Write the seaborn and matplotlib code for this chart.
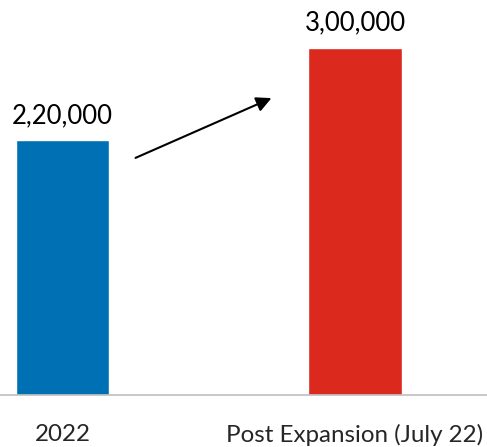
import matplotlib
matplotlib.use("Agg")
import matplotlib.pyplot as plt
import seaborn as sns
import pandas as pd

categories = ["2022", "Post Expansion (July 22)"]
values = [220000, 300000]
value_labels = ["2,20,000", "3,00,000"]
colors = ["#0070b4", "#dc291e"]

sns.set_style("white")
plt.rcParams['font.family'] = ['Lato', 'DejaVu Sans']

fig = plt.figure(figsize=(4.87, 4.47), dpi=100)
ax = fig.add_axes([0, (447 - 394.5) / 447, 1, 394.5 / 447])

df = pd.DataFrame({"cat": categories, "val": values})
sns.barplot(data=df, x="cat", y="val", hue="cat", palette=colors,
            width=0.318, legend=False, ax=ax, saturation=1)

ax.set_xlim(-62.5 / 292.5, 1 + (487 - 355) / 292.5)
ax.set_ylim(0, 300000 * 394.5 / (394.5 - 48))

for cont, lab in zip(ax.containers, value_labels):
    ax.bar_label(cont, labels=[lab], padding=9, fontsize=18.5, color='black')

# arrow between the bars
ax.annotate("", xy=(274 / 487, 1 - 97 / 394.5), xytext=(133 / 487, 1 - 159 / 394.5),
            xycoords='axes fraction', textcoords='axes fraction',
            arrowprops=dict(arrowstyle='-|>,head_length=0.9,head_width=0.45',
                            color='black', lw=1.5))

for s in ['top', 'left', 'right']:
    ax.spines[s].set_visible(False)
ax.spines['bottom'].set_color('#bfbfbf')
ax.spines['bottom'].set_linewidth(1.2)
ax.set_yticks([])
ax.set_xlabel("")
ax.set_ylabel("")
ax.tick_params(axis='x', length=0, pad=21, labelsize=17.4)

fig.savefig("out.png", dpi=100)
